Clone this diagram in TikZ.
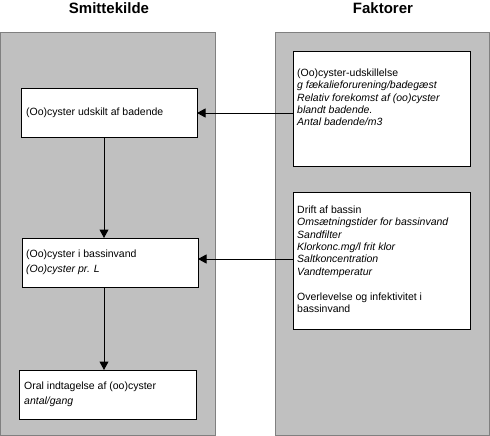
\documentclass[tikz,border=0pt]{standalone}
\usepackage{fontspec}
\setmainfont{Liberation Sans}
\usetikzlibrary{arrows.meta}
\definecolor{panelfill}{HTML}{C0C0C0}
\definecolor{panelline}{HTML}{808080}
\tikzset{
  panel/.style={draw=panelline, fill=panelfill, line width=0.8pt},
  box/.style={draw=black, fill=white, line width=1pt},
  title/.style={font=\fontsize{15}{18}\selectfont\bfseries, inner sep=0pt},
  lbl/.style={anchor=west, align=left, inner sep=0pt, font=\fontsize{10.5}{15}\selectfont},
  rlbl/.style={anchor=north west, align=left, inner sep=0pt, font=\fontsize{10.5}{12.4}\selectfont},
  conn/.style={draw=black, line width=1pt, -{Triangle[length=8.5pt,width=9pt]}},
}
\begin{document}
\begin{tikzpicture}[x=1pt,y=-1pt]
\useasboundingbox (0,0) rectangle (490,436);
% titles
\node[title] (t1) at (109,8) {Smittekilde};
\node[title] (t2) at (383,8) {Faktorer};
% panels
\path[panel] (0.5,32) rectangle (215,435);
\path[panel] (275,32) rectangle (489.5,435);
% left boxes
\path[box] (21,88) rectangle (197,137);
\path[box] (22,238) rectangle (198,287);
\path[box] (19,370) rectangle (196,419);
\coordinate (b1n) at (104,88); \coordinate (b1s) at (104,137); \coordinate (b1e) at (197,113);
\coordinate (b2n) at (104,238); \coordinate (b2s) at (104,287); \coordinate (b2e) at (198,259);
\coordinate (b3n) at (104,370);
% right boxes
\path[box] (293,52) rectangle (470,166);
\path[box] (293,192) rectangle (470,329);
\coordinate (f1w) at (293,113);
\coordinate (f2w) at (293,259);
% texts
\node[lbl] (l1) at (26,113) {(Oo)cyster udskilt af badende};
\node[lbl] (l2) at (26,262.5) {(Oo)cyster i bassinvand\\\textit{(Oo)cyster pr. L}};
\node[lbl] (l3) at (24,394.5) {Oral indtagelse af (oo)cyster\\\textit{antal/gang}};
\node[rlbl] (r1) at (297,68.5) {(Oo)cyster-udskillelse\\\textit{g fækalieforurening/badegæst}\\\textit{Relativ forekomst af (oo)cyster}\\\textit{blandt badende.}\\\textit{Antal badende/m3}};
\node[rlbl] (r2) at (297,205.5) {Drift af bassin\\\textit{Omsætningstider for bassinvand}\\\textit{Sandfilter}\\\textit{Klorkonc.mg/l frit klor}\\\textit{Saltkoncentration}\\\textit{Vandtemperatur}\\[12.4pt]Overlevelse og infektivitet i\\bassinvand};
% connectors
\draw[conn] (f1w) -- (b1e);
\draw[conn] (f2w) -- (b2e);
\draw[conn] (b1s) -- (b2n);
\draw[conn] (b2s) -- (b3n);
\end{tikzpicture}
\end{document}
